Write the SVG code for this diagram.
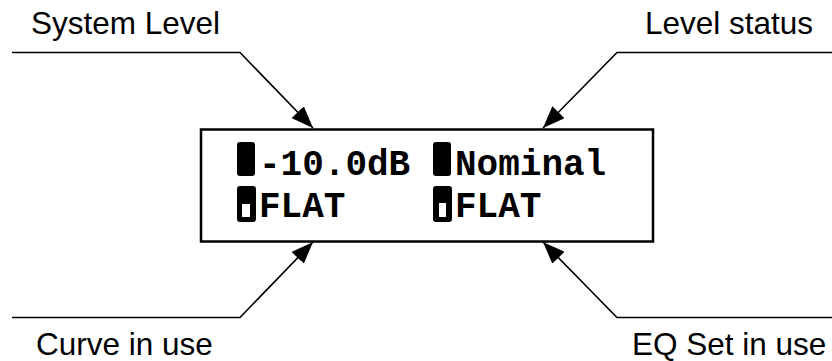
<svg xmlns="http://www.w3.org/2000/svg" width="832" height="361" viewBox="0 0 832 361">
<style>
.lbl{font-family:"Liberation Sans",Arial,sans-serif;font-size:31.5px;fill:#000}
.lcd{font-family:"Courier New","Liberation Mono",monospace;font-size:36px;font-weight:bold;fill:#000}
.conn{fill:none;stroke:#000;stroke-width:1.6}
.blk{fill:#000}
.hole{fill:#fff}
</style>
<defs>
<marker id="ah" viewBox="0 0 22 17" markerWidth="22" markerHeight="17" refX="22" refY="8.5" orient="auto" markerUnits="userSpaceOnUse">
<path d="M0,0 L22,8.5 L0,17 Z" fill="#000"/>
</marker>
</defs>
<rect width="832" height="361" fill="#fff"/>
<g id="connectors">
<polyline class="conn" points="12,52.5 240,52.5 313,128" marker-end="url(#ah)"/>
<polyline class="conn" points="832,52.5 617,52.5 543,128" marker-end="url(#ah)"/>
<polyline class="conn" points="12,317.5 240,317.5 313,242" marker-end="url(#ah)"/>
<polyline class="conn" points="832,317.5 617,317.5 543,242" marker-end="url(#ah)"/>
</g>
<g id="display">
<rect x="201" y="129.5" width="452" height="112" fill="#fff" stroke="#000" stroke-width="2.5"/>
<rect class="blk" x="237" y="142" width="18" height="34" rx="3"/>
<rect class="blk" x="433" y="142" width="18" height="34" rx="3"/>
<rect class="blk" x="237" y="186" width="19" height="36" rx="3"/>
<rect class="hole" x="242" y="204" width="8" height="13"/>
<rect class="blk" x="433" y="186" width="19" height="36" rx="3"/>
<rect class="hole" x="439" y="203" width="7" height="14"/>
<text class="lcd" x="259" y="175">-10.0dB</text>
<text class="lcd" x="455" y="175">Nominal</text>
<text class="lcd" x="259" y="217">FLAT</text>
<text class="lcd" x="455" y="217">FLAT</text>
</g>
<g id="label-system-level"><text class="lbl" x="31" y="34">System Level</text></g>
<g id="label-level-status"><text class="lbl" x="645" y="34">Level status</text></g>
<g id="label-curve"><text class="lbl" x="36" y="355">Curve in use</text></g>
<g id="label-eq-set"><text class="lbl" x="632" y="355">EQ Set in use</text></g>
</svg>
